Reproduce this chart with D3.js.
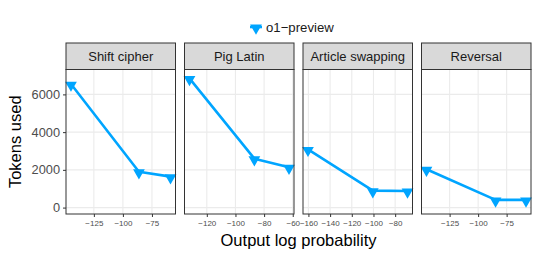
<!DOCTYPE html>
<html>
<head>
<meta charset="utf-8">
<script src="https://cdn.jsdelivr.net/npm/d3@7"></script>
<style>
  body { margin: 0; background: #fff; }
  text { font-family: "Liberation Sans", Arial, sans-serif; }
</style>
</head>
<body>
<svg id="chart"></svg>
<script>
const width = 540;
const height = 258;

// data
const tasks = ['Shift cipher', 'Pig Latin', 'Article swapping', 'Reversal'];
const shiftLogprob = [-144.7, -86.2, -59.0];
const shiftTokens = [6550, 1900, 1640];
const pigLogprob = [-132.1, -86.8, -62.6];
const pigTokens = [6846, 2593, 2138];
const articleLogprob = [-160.4, -100.6, -68.6];
const articleTokens = [3090, 900, 880];
const reversalLogprob = [-145.3, -84.7, -58.0];
const reversalTokens = [2032, 407, 407];
const xTicks = [[-125, -100, -75], [-120, -100, -80, -60], [-160, -140, -120, -100, -80], [-125, -100, -75]];
const yTicks = [0, 2000, 4000, 6000];
const seriesName = 'o1\u2212preview';

const logprobs = [shiftLogprob, pigLogprob, articleLogprob, reversalLogprob];
const tokens = [shiftTokens, pigTokens, articleTokens, reversalTokens];

const blue = '#00a5ff';
const frame = '#333333';

const plotLeft = 66;
const plotRight = 531;
const gap = 9;
const panelW = (plotRight - plotLeft - gap * 3) / 4;
const stripTop = 43;
const stripH = 26.5;
const plotTop = stripTop + stripH;
const plotBottom = 214;

const svg = d3.select('svg#chart').attr('width', width).attr('height', height);

const y = d3.scaleLinear().domain([-340, 7320]).range([plotBottom, plotTop]);

const tri = d3.symbol().type(d3.symbolTriangle).size(60);

tasks.forEach((name, i) => {
    const x0 = plotLeft + i * (panelW + gap);
    const ext = d3.extent(logprobs[i]);
    const pad = (ext[1] - ext[0]) * 0.05;
    const x = d3.scaleLinear().domain([ext[0] - pad, ext[1] + pad]).range([x0, x0 + panelW]);

    const g = svg.append('g');

    g.append('rect')
        .attr('x', x0).attr('y', plotTop)
        .attr('width', panelW).attr('height', plotBottom - plotTop)
        .attr('fill', 'white');

    // grid
    g.selectAll('.gy').data(yTicks).join('line')
        .attr('x1', x0).attr('x2', x0 + panelW)
        .attr('y1', d => y(d)).attr('y2', d => y(d))
        .attr('stroke', '#ebebeb').attr('stroke-width', 1.1);
    g.selectAll('.gx').data(xTicks[i]).join('line')
        .attr('x1', d => x(d)).attr('x2', d => x(d))
        .attr('y1', plotTop).attr('y2', plotBottom)
        .attr('stroke', '#ebebeb').attr('stroke-width', 1.1);

    const pts = logprobs[i].map((v, j) => [v, tokens[i][j]]);

    g.append('path')
        .datum(pts)
        .attr('d', d3.line().x(d => x(d[0])).y(d => y(d[1])))
        .attr('fill', 'none')
        .attr('stroke', blue)
        .attr('stroke-width', 2.6)
        .attr('stroke-linejoin', 'round');

    g.selectAll('.pt').data(pts).join('path')
        .attr('d', tri)
        .attr('transform', d => 'translate(' + x(d[0]) + ',' + (y(d[1]) + 1) + ') rotate(180)')
        .attr('fill', blue);

    // panel border
    g.append('rect')
        .attr('x', x0).attr('y', plotTop)
        .attr('width', panelW).attr('height', plotBottom - plotTop)
        .attr('fill', 'none').attr('stroke', frame).attr('stroke-width', 1);

    // strip
    g.append('rect')
        .attr('x', x0).attr('y', stripTop)
        .attr('width', panelW).attr('height', stripH)
        .attr('fill', '#d9d9d9').attr('stroke', frame).attr('stroke-width', 1);
    g.append('text')
        .attr('x', x0 + panelW / 2).attr('y', stripTop + stripH / 2 + 4.5)
        .attr('text-anchor', 'middle')
        .attr('font-size', 13)
        .attr('fill', '#1a1a1a')
        .text(name);

    // x axis
    const xAxis = d3.axisBottom(x).tickValues(xTicks[i]).tickSize(3).tickPadding(3)
        .tickFormat(d => String(d).replace('-', '\u2212'));
    const ax = g.append('g').attr('transform', 'translate(0,' + plotBottom + ')').call(xAxis);
    ax.select('.domain').remove();
    ax.selectAll('line').attr('stroke', frame);
    ax.selectAll('text').attr('font-size', 8).attr('fill', '#4d4d4d')
        .attr('font-family', '"Liberation Sans", Arial, sans-serif');
});

// y axis on the first panel
const yAxis = d3.axisLeft(y).tickValues(yTicks).tickSize(3).tickPadding(3).tickFormat(d3.format('d'));
const ay = svg.append('g').attr('transform', 'translate(' + plotLeft + ',0)').call(yAxis);
ay.select('.domain').remove();
ay.selectAll('line').attr('stroke', frame);
ay.selectAll('text').attr('font-size', 12.8).attr('fill', '#4d4d4d')
    .attr('font-family', '"Liberation Sans", Arial, sans-serif');

// axis titles
svg.append('text')
    .attr('x', (plotLeft + plotRight) / 2).attr('y', 246)
    .attr('text-anchor', 'middle')
    .attr('font-size', 16.5)
    .text('Output log probability');

svg.append('text')
    .attr('transform', 'translate(21,' + ((plotTop + plotBottom) / 2) + ') rotate(-90)')
    .attr('text-anchor', 'middle')
    .attr('font-size', 16.5)
    .text('Tokens used');

// legend
const lg = svg.append('g').attr('transform', 'translate(256,27)');
lg.append('path')
    .attr('d', tri)
    .attr('transform', 'translate(0,1) rotate(180)')
    .attr('fill', blue);
lg.append('line').attr('x1', -6).attr('x2', 6).attr('y1', 0).attr('y2', 0)
    .attr('stroke', blue).attr('stroke-width', 2.6);
lg.append('text')
    .attr('x', 10).attr('y', 5)
    .attr('font-size', 13.2)
    .attr('fill', '#1a1a1a')
    .text(seriesName);
</script>
</body>
</html>
